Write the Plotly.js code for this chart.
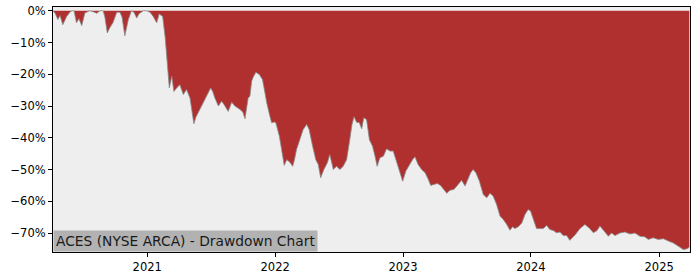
<!DOCTYPE html>
<html>
<head>
<meta charset="utf-8">
<script src="https://cdn.plot.ly/plotly-3.0.1.min.js"></script>
<style>
  html, body { margin: 0; padding: 0; background: #ffffff; }
  #chart { width: 700px; height: 280px; }
</style>
</head>
<body>
<div id="chart"></div>
<script>
// Drawdown of ACES (NYSE ARCA), in percent
const dates = [
  "2020-04-07","2020-04-13","2020-04-21","2020-04-27","2020-05-05","2020-05-16","2020-05-25","2020-05-31",
  "2020-06-06","2020-06-13","2020-06-20","2020-06-28","2020-07-07","2020-07-16","2020-07-21","2020-07-30",
  "2020-08-10","2020-08-19","2020-08-28","2020-09-02","2020-09-09","2020-09-16","2020-09-25","2020-10-06",
  "2020-10-15","2020-10-21","2020-10-29","2020-11-08","2020-11-17","2020-11-24","2020-12-02","2020-12-08",
  "2020-12-21","2020-12-30","2021-01-09","2021-01-18","2021-01-28","2021-02-04","2021-02-14","2021-02-21",
  "2021-02-26","2021-03-05","2021-03-12","2021-03-18","2021-03-26","2021-04-04","2021-04-14","2021-04-23",
  "2021-05-03","2021-05-08","2021-05-14","2021-05-20","2021-05-27","2021-06-03","2021-06-10","2021-06-21",
  "2021-07-01","2021-07-07","2021-07-13","2021-07-23","2021-08-01","2021-08-08","2021-08-20","2021-08-30",
  "2021-09-08","2021-09-23","2021-10-01","2021-10-07","2021-10-16","2021-10-21","2021-10-26","2021-10-30",
  "2021-11-07","2021-11-17","2021-11-26","2021-12-03","2021-12-08","2021-12-17","2021-12-22","2021-12-29",
  "2022-01-03","2022-01-13","2022-01-20","2022-01-27","2022-02-03","2022-02-12","2022-02-20","2022-02-25",
  "2022-03-03","2022-03-13","2022-03-22","2022-04-01","2022-04-08","2022-04-18","2022-04-27","2022-05-04",
  "2022-05-11","2022-05-20","2022-05-30","2022-06-06","2022-06-16","2022-06-25","2022-07-05","2022-07-14",
  "2022-07-24","2022-08-02","2022-08-08","2022-08-14","2022-08-22","2022-08-29","2022-09-05","2022-09-11",
  "2022-09-19","2022-09-27","2022-10-06","2022-10-13","2022-10-19","2022-10-27","2022-11-06","2022-11-15",
  "2022-11-25","2022-12-04","2022-12-12","2022-12-21","2022-12-31","2023-01-09","2023-01-19","2023-01-28",
  "2023-02-04","2023-02-13","2023-02-23","2023-03-05","2023-03-14","2023-03-21","2023-03-30","2023-04-09",
  "2023-04-18","2023-04-28","2023-05-06","2023-05-15","2023-05-26","2023-06-05","2023-06-12","2023-06-17",
  "2023-06-27","2023-07-06","2023-07-13","2023-07-20","2023-07-28","2023-08-07","2023-08-18","2023-08-28",
  "2023-09-06","2023-09-15","2023-09-25","2023-10-05","2023-10-14","2023-10-24","2023-11-02","2023-11-10",
  "2023-11-16","2023-11-26","2023-12-06","2023-12-15","2023-12-24","2023-12-31","2024-01-08","2024-01-17",
  "2024-01-27","2024-02-05","2024-02-15","2024-02-24","2024-03-05","2024-03-14","2024-03-24","2024-04-02",
  "2024-04-12","2024-04-21","2024-05-06","2024-05-20","2024-06-03","2024-06-17","2024-06-27","2024-07-07",
  "2024-07-16","2024-07-25","2024-08-09","2024-08-18","2024-08-28","2024-09-11","2024-09-25","2024-10-10",
  "2024-10-24","2024-11-07","2024-11-21","2024-12-01","2024-12-15","2024-12-29","2025-01-13","2025-01-27",
  "2025-02-10","2025-02-24","2025-03-11","2025-03-20","2025-03-28"
];
const drawdown = [
  0, -0.8, -2.8, -1.5, -4.4, -1.8, -0.5, 0,
  0, -3.8, -2.5, -4.7, -0.7, -0.3, 0, -0.3,
  -0.8, 0, 0, -2, -7, -5.4, -3.8, -0.5,
  -0.5, -2, -7.9, -2.8, 0, -0.5, -2.3, -1,
  0, 0, -0.5, -1.8, -3.8, -1, -1.8, -8.3,
  -16, -24.3, -20.6, -25.4, -24.3, -23.3, -26.4, -24.8,
  -27.5, -31.5, -35.6, -33.5, -32, -30.5, -29, -26.4,
  -24.3, -25.5, -27.5, -30, -28.5, -29.5, -31.7, -28.8,
  -30, -31.1, -32, -34, -27.5, -26.9, -22.2, -21,
  -19.4, -20.1, -21.7, -25.9, -29, -33.2, -35.3, -35,
  -35.3, -39.5, -43.7, -48.7, -46.9, -47.7, -49, -47,
  -43.7, -40.6, -37.4, -35.8, -37.4, -42.7, -46.9, -48.4,
  -52.6, -50, -47.9, -45.3, -50, -49, -50, -49,
  -46.9, -40.6, -36, -33.4, -35.2, -35.2, -37.2, -33.7,
  -34.3, -40.6, -42.7, -45.8, -49, -46.3, -45.8, -43.5,
  -44.2, -44.2, -46.9, -50, -53.7, -50.5, -48.4, -46.9,
  -46, -48.4, -50, -51, -53.1, -55, -54.7, -54.4,
  -55, -56.3, -57.5, -56.5, -56.3, -55, -54.2, -53.4,
  -55.2, -53.1, -51, -50, -51, -53.7, -57.9, -58.9,
  -57.5, -58.3, -61, -64.7, -65.7, -67.3, -69.1, -68,
  -68.6, -68, -66.8, -64.2, -62.6, -63.1, -65.7, -68.6,
  -68.6, -68.6, -67.6, -68.9, -69.2, -69.9, -69.7, -70.8,
  -70.8, -72.3, -70.6, -68.6, -67.3, -68.6, -69.9, -69.3,
  -67.8, -68.9, -71, -70, -70.8, -70, -69.7, -70.3,
  -70, -71, -71.2, -72, -71.5, -72, -71.8, -72.5,
  -73.1, -74.1, -75.2, -75, -74.5
];
const yTicks = [0, -10, -20, -30, -40, -50, -60, -70];
const yTickLabels = ["0%", "\u221210%", "\u221220%", "\u221230%", "\u221240%", "\u221250%", "\u221260%", "\u221270%"];
const xTicks = ["2021-01-01", "2022-01-01", "2023-01-01", "2024-01-01", "2025-01-01"];
const xTickLabels = ["2021", "2022", "2023", "2024", "2025"];
const chartLabel = "ACES (NYSE ARCA) - Drawdown Chart";

const trace = {
  type: "scatter",
  mode: "lines",
  x: dates,
  y: drawdown,
  fill: "tozeroy",
  fillcolor: "#b03030",
  line: { color: "#8a8a8a", width: 0.8, shape: "linear" },
  hoverinfo: "skip"
};

const layout = {
  width: 700,
  height: 280,
  margin: { l: 53, r: 10, t: 7, b: 28, pad: 0 },
  paper_bgcolor: "#ffffff",
  plot_bgcolor: "#eeeeee",
  showlegend: false,
  font: { family: "DejaVu Sans", size: 11.5, color: "#000000" },
  xaxis: {
    type: "date",
    range: ["2020-04-07", "2025-03-30"],
    tickmode: "array",
    tickvals: xTicks,
    ticktext: xTickLabels,
    ticks: "outside",
    ticklen: 4,
    tickwidth: 1,
    tickcolor: "#000000",
    showgrid: false,
    zeroline: false,
    showline: true,
    linecolor: "#000000",
    linewidth: 1,
    mirror: true,
    tickfont: { family: "DejaVu Sans", size: 11.5, color: "#000000" }
  },
  yaxis: {
    range: [-75.97, 1.17],
    tickmode: "array",
    tickvals: yTicks,
    ticktext: yTickLabels,
    ticks: "outside",
    ticklen: 4,
    tickwidth: 1,
    tickcolor: "#000000",
    showgrid: false,
    zeroline: false,
    showline: true,
    linecolor: "#000000",
    linewidth: 1,
    mirror: true,
    tickfont: { family: "DejaVu Sans", size: 11.5, color: "#000000" }
  },
  annotations: [{
    text: chartLabel,
    xref: "paper", yref: "paper",
    x: 0, y: 0,
    xanchor: "left", yanchor: "bottom",
    showarrow: false,
    bgcolor: "#b2b2b2",
    borderpad: 2,
    font: { family: "DejaVu Sans", size: 13.8, color: "#1a1a1a" }
  }]
};

Plotly.newPlot("chart", [trace], layout, { staticPlot: true, displayModeBar: false });
</script>
</body>
</html>
